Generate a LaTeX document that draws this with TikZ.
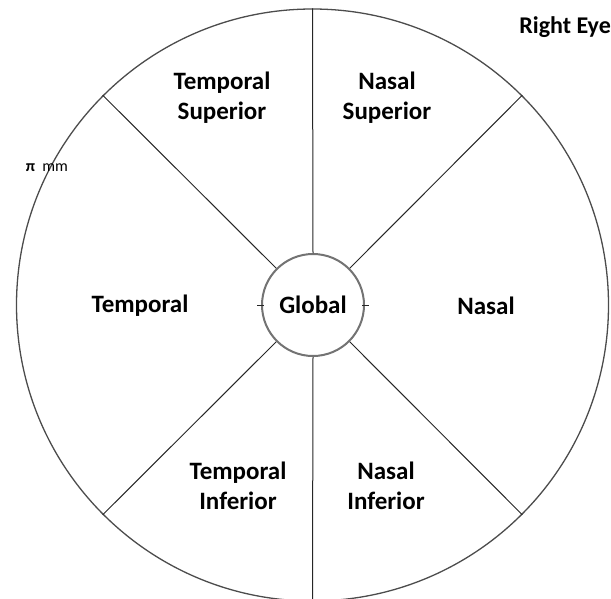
\documentclass[tikz,border=0pt]{standalone}
\usepackage{fontspec}
\setmainfont{Carlito}
\begin{document}
\begin{tikzpicture}[x=1pt,y=-1pt,
  lbl/.style={font=\fontsize{25}{30}\selectfont\bfseries, align=center, inner sep=0pt},
  spoke/.style={draw=black!85, line width=1pt},
  ring/.style={circle, draw=black!70, line width=1.3pt, inner sep=0pt},
  hub/.style={circle, draw=black!55, line width=2pt, fill=white, inner sep=0pt, minimum size=102pt}]
\useasboundingbox (0,0) rectangle (611,598);
\node[ring, minimum size=592pt] (outer) at (312.5,305) {};
\node[hub, font=\fontsize{25}{30}\selectfont\bfseries] (global) at (313,305) {Global};
\foreach \a in {45,90,135,225,270,315}{
  \draw[spoke] (global.\a) -- (outer.\a);
}
\coordinate (tl1) at ([xshift=-4pt]global.west);
\coordinate (tl2) at ([xshift=3pt]global.west);
\coordinate (tr1) at ([xshift=-3pt]global.east);
\coordinate (tr2) at ([xshift=4pt]global.east);
\draw[spoke, line width=0.8pt] (tl1) -- (tl2);
\draw[spoke, line width=0.8pt] (tr1) -- (tr2);
\node[lbl] (ts) at (222,98) {Temporal\\Superior};
\node[lbl] (ns) at (387,98) {Nasal\\Superior};
\node[lbl] (t) at (140,306) {Temporal};
\node[lbl] (n) at (486,306) {Nasal};
\node[lbl] (ti) at (238,486) {Temporal\\Inferior};
\node[lbl] (ni) at (386,486) {Nasal\\Inferior};
\node[font=\fontsize{24}{28}\selectfont\bfseries, inner sep=0pt, anchor=east] (eye) at (611,27) {Right Eye};
\node[font=\fontsize{16}{18}\selectfont, inner sep=0pt] (pi) at (47,168) {\textbf{π}\hspace{0.45em}mm};
\end{tikzpicture}
\end{document}
